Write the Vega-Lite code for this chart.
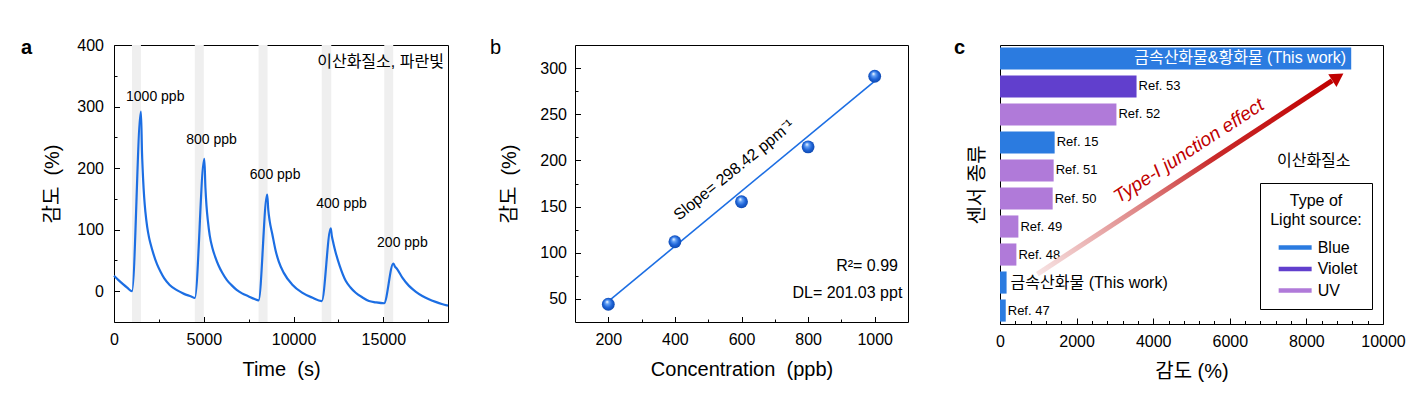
{
  "$schema": "https://vega.github.io/schema/vega-lite/v6.json",
  "padding": {"left": 20, "top": 36, "right": 5, "bottom": 5},
  "bounds": "flush",
  "spacing": 127,
  "config": {
    "font": "Liberation Sans, 'Noto Sans CJK KR'",
    "view": {"stroke": "#000000", "strokeWidth": 1},
    "axis": {"domain": false, "grid": false, "tickColor": "#000000", "tickWidth": 1, "labelColor": "#000000", "titleColor": "#000000", "labelFontSize": 16, "titleFontSize": 20, "titleFontWeight": "normal", "labelFont": "Liberation Sans, 'Noto Sans CJK KR'", "titleFont": "Liberation Sans, 'Noto Sans CJK KR'", "labelFlush": false, "labelOverlap": false},
    "title": {"fontSize": 20, "anchor": "start", "frame": "group", "baseline": "alphabetic", "offset": 0, "color": "#000000", "font": "Liberation Sans"}
  },
  "hconcat": [
    {
      "width": 334,
      "height": 277,
      "title": {"text": "a", "fontWeight": "bold", "dx": -93, "dy": 25},
      "layer": [
        {
          "data": {"values": [
            {"start": 1000, "end": 1500}, {"start": 4500, "end": 5000}, {"start": 8050, "end": 8550}, {"start": 11570, "end": 12100}, {"start": 15050, "end": 15550}
          ]},
          "mark": {"type": "rect", "color": "#efefef"},
          "encoding": {
            "x": {"field": "start", "type": "quantitative", "scale": {"domain": [0, 18600], "nice": false, "zero": false},
              "axis": {"orient": "bottom", "values": [0, 5000, 10000, 15000], "format": "d", "title": "Time\u00a0\u00a0(s)", "tickSize": -5.5, "labelPadding": 15, "titlePadding": 12}},
            "x2": {"field": "end"}
          }
        },
        {
          "data": {"values": [
            {"t": 0, "s": 25}, {"t": 250, "s": 18}, {"t": 500, "s": 11.5}, {"t": 750, "s": 5.5}, {"t": 1000, "s": 0},
            {"t": 1500, "s": 292}, {"t": 1560, "s": 225.3}, {"t": 1620, "s": 182.9}, {"t": 1680, "s": 152.6}, {"t": 1750, "s": 128.4}, {"t": 1850, "s": 104.1}, {"t": 1950, "s": 87.5}, {"t": 2050, "s": 75.4}, {"t": 2200, "s": 60.2}, {"t": 2400, "s": 43.5}, {"t": 2600, "s": 31.4}, {"t": 2800, "s": 20.8}, {"t": 3100, "s": 10.2}, {"t": 3500, "s": 1.7}, {"t": 3900, "s": -4.3}, {"t": 4300, "s": -8.6}, {"t": 4500, "s": -11},
            {"t": 5030, "s": 215}, {"t": 5090, "s": 169}, {"t": 5150, "s": 139.1}, {"t": 5230, "s": 113.8}, {"t": 5330, "s": 90.8}, {"t": 5480, "s": 70.1}, {"t": 5630, "s": 56.3}, {"t": 5830, "s": 41.4}, {"t": 6030, "s": 29.9}, {"t": 6280, "s": 18.4}, {"t": 6530, "s": 10.3}, {"t": 6830, "s": 2.3}, {"t": 7130, "s": -3.5}, {"t": 7480, "s": -8.1}, {"t": 7830, "s": -12.7}, {"t": 8050, "s": -15},
            {"t": 8530, "s": 157}, {"t": 8590, "s": 132.8}, {"t": 8670, "s": 113.8}, {"t": 8808, "s": 93.9}, {"t": 8992, "s": 67}, {"t": 9177, "s": 48}, {"t": 9455, "s": 29.8}, {"t": 9918, "s": 11}, {"t": 10474, "s": -2.3}, {"t": 11030, "s": -10.3}, {"t": 11570, "s": -16},
            {"t": 12070, "s": 102}, {"t": 12130, "s": 89.9}, {"t": 12220, "s": 77.7}, {"t": 12347, "s": 62.6}, {"t": 12570, "s": 41.3}, {"t": 12903, "s": 17}, {"t": 13170, "s": 6}, {"t": 13459, "s": -2.5}, {"t": 13820, "s": -9.8}, {"t": 14200, "s": -15.9}, {"t": 14570, "s": -18}, {"t": 15040, "s": -19.5},
            {"t": 15555, "s": 45}, {"t": 15640, "s": 40.5}, {"t": 15778, "s": 35.5}, {"t": 16057, "s": 22.1}, {"t": 16428, "s": 8.7}, {"t": 16796, "s": -0.5}, {"t": 17169, "s": -7.7}, {"t": 17537, "s": -13}, {"t": 17909, "s": -17.3}, {"t": 18255, "s": -20.8}, {"t": 18600, "s": -23.5}
          ]},
          "mark": {"type": "line", "color": "#1c6ee3", "strokeWidth": 2.2, "interpolate": "monotone"},
          "encoding": {
            "x": {"field": "t", "type": "quantitative", "axis": {"orient": "bottom", "values": [2500, 7500, 12500, 17500], "labels": false, "tickSize": -3, "title": null}},
            "y": {"field": "s", "type": "quantitative", "scale": {"domain": [-50, 400], "nice": false, "zero": false},
              "axis": {"orient": "left", "values": [0, 100, 200, 300, 400], "title": "감도\u00a0\u00a0(%)", "tickSize": -5.5, "labelPadding": 16, "titlePadding": 14}}
          }
        },
        {
          "data": {"values": [
            {"t": 2297, "s": 315, "label": "1000 ppb"},
            {"t": 5434, "s": 245, "label": "800 ppb"},
            {"t": 8973, "s": 189.5, "label": "600 ppb"},
            {"t": 12667, "s": 141, "label": "400 ppb"},
            {"t": 16058, "s": 77.7, "label": "200 ppb"}
          ]},
          "mark": {"type": "text", "fontSize": 14, "align": "center", "baseline": "middle", "color": "#000000"},
          "encoding": {
            "x": {"field": "t", "type": "quantitative", "axis": null},
            "y": {"field": "s", "type": "quantitative", "axis": {"orient": "left", "values": [50, 150, 250, 350], "labels": false, "tickSize": -3, "title": null}},
            "text": {"field": "label"}
          }
        },
        {
          "data": {"values": [{"t": 18370, "s": 373, "label": "이산화질소, 파란빛"}]},
          "mark": {"type": "text", "fontSize": 16, "align": "right", "baseline": "middle", "color": "#000000"},
          "encoding": {
            "x": {"field": "t", "type": "quantitative", "axis": null},
            "y": {"field": "s", "type": "quantitative", "axis": null},
            "text": {"field": "label"}
          }
        }
      ],
      "resolve": {"axis": {"x": "independent", "y": "independent"}}
    },
    {
      "bounds": "flush",
      "spacing": 92,
      "hconcat": [
        {
          "width": 333,
          "height": 277,
          "title": {"text": "b", "fontWeight": "normal", "dx": -85, "dy": 17},
          "layer": [
            {
              "data": {"values": [{"c": 200, "s": 47.4}, {"c": 1000, "s": 286}]},
              "mark": {"type": "line", "color": "#1c6ee3", "strokeWidth": 1.6},
              "encoding": {
                "x": {"field": "c", "type": "quantitative", "scale": {"domain": [100, 1100], "nice": false, "zero": false},
                  "axis": {"orient": "bottom", "values": [200, 400, 600, 800, 1000], "format": "d", "title": "Concentration\u00a0\u00a0(ppb)", "tickSize": -5.5, "labelPadding": 15, "titlePadding": 12}},
                "y": {"field": "s", "type": "quantitative", "scale": {"domain": [25, 325], "nice": false, "zero": false},
                  "axis": {"orient": "left", "values": [50, 100, 150, 200, 250, 300], "title": "감도\u00a0\u00a0(%)", "tickSize": -5.5, "labelPadding": 14, "titlePadding": 20}}
              }
            },
            {
              "data": {"values": [{"c": 200, "s": 44.2}, {"c": 400, "s": 111.9}, {"c": 600, "s": 155.2}, {"c": 800, "s": 214.7}, {"c": 1000, "s": 291.2}]},
              "mark": {"type": "point", "filled": true, "size": 165, "opacity": 1, "strokeWidth": 0,
                "fill": {"gradient": "radial", "x1": 0.4, "y1": 0.3, "r1": 0.02, "x2": 0.5, "y2": 0.5, "r2": 0.55,
                  "stops": [{"offset": 0, "color": "#ffffff"}, {"offset": 0.22, "color": "#6aa6f7"}, {"offset": 0.6, "color": "#1e64d8"}, {"offset": 1, "color": "#0c44a8"}]}},
              "encoding": {
                "x": {"field": "c", "type": "quantitative", "axis": {"orient": "bottom", "values": [300, 500, 700, 900], "labels": false, "tickSize": -3, "title": null}},
                "y": {"field": "s", "type": "quantitative", "axis": {"orient": "left", "values": [75, 125, 175, 225, 275], "labels": false, "tickSize": -3, "title": null}}
              }
            },
            {
              "data": {"values": [{"c": 577, "s": 189.5, "label": "Slope= 298.42 ppm⁻¹"}]},
              "mark": {"type": "text", "fontSize": 16, "align": "center", "baseline": "middle", "angle": 321, "color": "#000000"},
              "encoding": {
                "x": {"field": "c", "type": "quantitative", "axis": null},
                "y": {"field": "s", "type": "quantitative", "axis": null},
                "text": {"field": "label"}
              }
            },
            {
              "data": {"values": [{"c": 1070, "s": 85.6, "label": "R²= 0.99"}, {"c": 1083, "s": 56.7, "label": "DL= 201.03 ppt"}]},
              "mark": {"type": "text", "fontSize": 16, "align": "right", "baseline": "middle", "color": "#000000"},
              "encoding": {
                "x": {"field": "c", "type": "quantitative", "axis": null},
                "y": {"field": "s", "type": "quantitative", "axis": null},
                "text": {"field": "label"}
              }
            }
          ],
          "resolve": {"axis": {"x": "independent", "y": "independent"}}
        },
        {
          "width": 383,
          "height": 279,
          "title": {"text": "c", "fontWeight": "bold", "dx": -46, "dy": 17},
          "layer": [
            {
              "data": {"values": [
                {"sensor": "금속산화물&황화물 (This work)", "value": 9170, "light": "Blue"},
                {"sensor": "Ref. 53", "value": 3565, "light": "Violet"},
                {"sensor": "Ref. 52", "value": 3040, "light": "UV"},
                {"sensor": "Ref. 15", "value": 1427, "light": "Blue"},
                {"sensor": "Ref. 51", "value": 1401, "light": "UV"},
                {"sensor": "Ref. 50", "value": 1375, "light": "UV"},
                {"sensor": "Ref. 49", "value": 480, "light": "UV"},
                {"sensor": "Ref. 48", "value": 428, "light": "UV"},
                {"sensor": "금속산화물 (This work)", "value": 172, "light": "Blue"},
                {"sensor": "Ref. 47", "value": 150, "light": "Blue"}
              ]},
              "layer": [
                {
                  "mark": {"type": "bar"},
                  "encoding": {
                    "y": {"field": "sensor", "type": "nominal", "sort": null, "scale": {"paddingInner": 0.21, "paddingOuter": 0.085},
                      "axis": {"labels": false, "ticks": false, "title": "센서 종류", "titlePadding": 13}},
                    "x": {"field": "value", "type": "quantitative", "scale": {"domain": [0, 10000], "nice": false, "zero": false},
                      "axis": {"orient": "bottom", "values": [0, 2000, 4000, 6000, 8000, 10000], "format": "d", "title": "감도 (%)", "tickSize": -6, "labelPadding": 15, "titlePadding": 12}},
                    "color": {"field": "light", "type": "nominal",
                      "scale": {"domain": ["Blue", "Violet", "UV"], "range": ["#2b7be0", "#613fcd", "#b07ad9"]},
                      "legend": {"orient": "none", "legendX": 1146, "legendY": 138, "title": ["Type of", "Light source:"],
                        "titleFontSize": 16, "titleFontWeight": "normal", "titleAnchor": "middle", "titleAlign": "center", "titleLineHeight": 19, "titlePadding": 11,
                        "labelFontSize": 16, "labelOffset": 14, "rowPadding": 4.5, "padding": 10, "symbolOffset": 11.65,
                        "symbolType": "M-2,-0.26L2,-0.26L2,0.26L-2,0.26Z", "symbolSize": 272, "symbolStrokeWidth": 0,
                        "strokeColor": "#000000", "fillColor": "#ffffff", "labelColor": "#000000", "titleColor": "#000000"}}
                  }
                },
                {
                  "transform": [{"filter": "indexof(datum.sensor, 'Ref.') === 0"}],
                  "mark": {"type": "text", "align": "left", "baseline": "middle", "dx": 2, "fontSize": 13, "color": "#000000"},
                  "encoding": {
                    "y": {"field": "sensor", "type": "nominal", "sort": null, "axis": null},
                    "x": {"field": "value", "type": "quantitative",
                      "axis": {"orient": "bottom", "values": [400, 800, 1200, 1600, 2400, 2800, 3200, 3600, 4400, 4800, 5200, 5600, 6400, 6800, 7200, 7600, 8400, 8800, 9200, 9600], "labels": false, "tickSize": -3.5, "title": null}},
                    "text": {"field": "sensor"}
                  }
                },
                {
                  "transform": [{"filter": "datum.sensor === '금속산화물 (This work)'"}],
                  "mark": {"type": "text", "align": "left", "baseline": "middle", "dx": 4, "fontSize": 16, "color": "#000000"},
                  "encoding": {
                    "y": {"field": "sensor", "type": "nominal", "sort": null, "axis": null},
                    "x": {"field": "value", "type": "quantitative", "axis": null},
                    "text": {"field": "sensor"}
                  }
                },
                {
                  "transform": [{"filter": "datum.sensor === '금속산화물&황화물 (This work)'"}],
                  "mark": {"type": "text", "align": "right", "baseline": "middle", "dx": -5, "fontSize": 16, "color": "#ffffff"},
                  "encoding": {
                    "y": {"field": "sensor", "type": "nominal", "sort": null, "axis": null},
                    "x": {"field": "value", "type": "quantitative", "axis": null},
                    "text": {"field": "sensor"}
                  }
                }
              ],
              "resolve": {"axis": {"x": "independent", "y": "independent"}}
            },
            {
              "layer": [
                {
                  "data": {"values": [{"ax": 976, "ay": 1.79}, {"ax": 8672, "ay": 8.72}]},
                  "mark": {"type": "line", "strokeWidth": 5, "strokeCap": "butt",
                    "stroke": {"gradient": "linear", "x1": 0, "y1": 1, "x2": 1, "y2": 0,
                      "stops": [{"offset": 0, "color": "#f7e4e4"}, {"offset": 0.35, "color": "#de8484"}, {"offset": 0.6, "color": "#c92a2a"}, {"offset": 1, "color": "#c00000"}]}},
                  "encoding": {
                    "x": {"field": "ax", "type": "quantitative", "scale": {"domain": [0, 10000], "nice": false, "zero": false}, "axis": null},
                    "y": {"field": "ay", "type": "quantitative", "scale": {"domain": [0, 10], "nice": false, "zero": false}, "axis": null}
                  }
                },
                {
                  "data": {"values": [{"ax": 8822, "ay": 8.85}]},
                  "mark": {"type": "point", "shape": "triangle-up", "filled": true, "color": "#c00000", "size": 230, "angle": 57, "opacity": 1},
                  "encoding": {
                    "x": {"field": "ax", "type": "quantitative", "axis": null},
                    "y": {"field": "ay", "type": "quantitative", "axis": null}
                  }
                },
                {
                  "data": {"values": [{"ax": 4931, "ay": 6.21, "label": "Type-I junction effect"}]},
                  "mark": {"type": "text", "fontSize": 19, "fontStyle": "italic", "color": "#c00000", "angle": 327, "align": "center", "baseline": "middle"},
                  "encoding": {
                    "x": {"field": "ax", "type": "quantitative", "axis": null},
                    "y": {"field": "ay", "type": "quantitative", "axis": null},
                    "text": {"field": "label"}
                  }
                },
                {
                  "data": {"values": [{"ax": 8192, "ay": 5.85, "label": "이산화질소"}]},
                  "mark": {"type": "text", "fontSize": 16, "color": "#000000", "align": "center", "baseline": "middle"},
                  "encoding": {
                    "x": {"field": "ax", "type": "quantitative", "axis": null},
                    "y": {"field": "ay", "type": "quantitative", "axis": null},
                    "text": {"field": "label"}
                  }
                }
              ]
            }
          ],
          "resolve": {"scale": {"y": "independent"}, "axis": {"x": "independent", "y": "independent"}}
        }
      ]
    }
  ]
}
